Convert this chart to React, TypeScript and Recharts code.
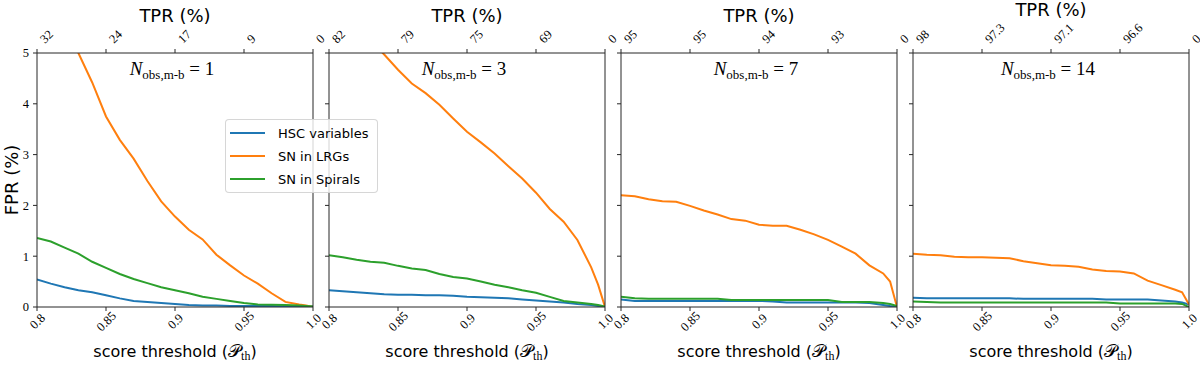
import React from "react";
import { LineChart, Line, XAxis, YAxis } from "recharts";

// score thresholds shared by every panel
const thresholds = [0.8, 0.81, 0.82, 0.83, 0.84, 0.85, 0.86, 0.87, 0.88, 0.89, 0.9, 0.91, 0.92, 0.93, 0.94, 0.95, 0.96, 0.97, 0.98, 0.99, 0.995, 1.0];
const xTicks = [0.8, 0.85, 0.9, 0.95, 1.0];
const yTicks = [0, 1, 2, 3, 4, 5];
const nObs = [1, 3, 7, 14];

const seriesNames = ["HSC variables", "SN in LRGs", "SN in Spirals"];
const colors = ["#1f77b4", "#ff7f0e", "#2ca02c"];

// TPR labels on the top axis
const tpr1 = ["32", "24", "17", "9", "0"];
const tpr2 = ["82", "79", "75", "69", "0"];
const tpr3 = ["95", "95", "94", "93", "0"];
const tpr4 = ["98", "97.3", "97.1", "96.6", "0"];

// FPR (%) per threshold
const hsc1 = [0.54, 0.46, 0.39, 0.33, 0.29, 0.23, 0.17, 0.12, 0.1, 0.08, 0.06, 0.04, 0.03, 0.03, 0.02, 0.02, 0.02, 0.02, 0.01, 0.01, 0.01, 0.01];
const lrg1 = [6.9, 6.3, 5.7, 5.0, 4.42, 3.75, 3.29, 2.92, 2.48, 2.08, 1.78, 1.52, 1.33, 1.03, 0.82, 0.62, 0.46, 0.27, 0.1, 0.05, 0.03, 0.0];
const spiral1 = [1.36, 1.29, 1.17, 1.05, 0.89, 0.77, 0.65, 0.55, 0.47, 0.39, 0.33, 0.27, 0.2, 0.16, 0.12, 0.08, 0.05, 0.045, 0.04, 0.03, 0.02, 0.01];

const hsc2 = [0.33, 0.31, 0.29, 0.27, 0.25, 0.24, 0.24, 0.23, 0.23, 0.22, 0.2, 0.19, 0.18, 0.17, 0.15, 0.13, 0.11, 0.09, 0.06, 0.04, 0.02, 0.0];
const lrg2 = [6.2, 5.85, 5.55, 5.25, 4.97, 4.67, 4.4, 4.21, 3.98, 3.71, 3.45, 3.24, 3.02, 2.77, 2.53, 2.25, 1.93, 1.68, 1.32, 0.78, 0.44, 0.0];
const spiral2 = [1.02, 0.98, 0.93, 0.89, 0.87, 0.81, 0.76, 0.73, 0.65, 0.59, 0.56, 0.5, 0.44, 0.39, 0.33, 0.28, 0.2, 0.12, 0.09, 0.06, 0.04, 0.01];

const hsc3 = [0.15, 0.12, 0.12, 0.12, 0.12, 0.12, 0.12, 0.12, 0.12, 0.12, 0.12, 0.11, 0.09, 0.09, 0.09, 0.09, 0.09, 0.09, 0.08, 0.04, 0.02, 0.01];
const lrg3 = [2.2, 2.18, 2.12, 2.08, 2.07, 1.99, 1.9, 1.82, 1.73, 1.7, 1.62, 1.6, 1.6, 1.52, 1.43, 1.32, 1.19, 1.05, 0.82, 0.66, 0.5, 0.0];
const spiral3 = [0.2, 0.17, 0.16, 0.16, 0.16, 0.16, 0.16, 0.16, 0.14, 0.14, 0.14, 0.14, 0.14, 0.14, 0.14, 0.14, 0.1, 0.1, 0.1, 0.08, 0.06, 0.02];

const hsc4 = [0.18, 0.17, 0.17, 0.17, 0.17, 0.17, 0.17, 0.17, 0.16, 0.16, 0.16, 0.16, 0.16, 0.16, 0.15, 0.15, 0.15, 0.15, 0.13, 0.11, 0.09, 0.05];
const lrg4 = [1.05, 1.03, 1.02, 0.99, 0.98, 0.98, 0.97, 0.96, 0.9, 0.86, 0.82, 0.81, 0.79, 0.74, 0.71, 0.7, 0.66, 0.52, 0.43, 0.34, 0.29, 0.05];
const spiral4 = [0.11, 0.1, 0.09, 0.09, 0.09, 0.09, 0.09, 0.09, 0.09, 0.09, 0.09, 0.09, 0.09, 0.09, 0.09, 0.07, 0.07, 0.07, 0.07, 0.07, 0.06, 0.0];

const panels = [
  { n: nObs[0], tpr: tpr1, hsc: hsc1, lrg: lrg1, spiral: spiral1 },
  { n: nObs[1], tpr: tpr2, hsc: hsc2, lrg: lrg2, spiral: spiral2 },
  { n: nObs[2], tpr: tpr3, hsc: hsc3, lrg: lrg3, spiral: spiral3 },
  { n: nObs[3], tpr: tpr4, hsc: hsc4, lrg: lrg4, spiral: spiral4 },
];

// layout
const W = 1200;
const H = 367;
const PLOT_TOP = 53;
const PLOT_BOTTOM = 307;
const PLOT_W = 276;
const PANEL_LEFTS = [37, 329, 621, 913];
const PAD_L = 37;
const PAD_R = 20;
const AXIS_COLOR = "#262626";
const SERIF = "'Liberation Serif', 'DejaVu Serif', serif";
const SANS = "'DejaVu Sans', sans-serif";

const labelWidth = (s: string) => s.split("").reduce((w, c) => w + (c === "." ? 3 : 6), 0);
const tickFont = { fontSize: 12.5, fontFamily: SERIF, fill: "#000" };
const noLabel = () => "";

function Panel({ idx }: { idx: number }) {
  const p = panels[idx];
  const data = thresholds.map((t, i) => ({ t, hsc: p.hsc[i], lrg: p.lrg[i], spiral: p.spiral[i] }));
  const first = idx === 0;
  return (
    <div style={{ position: "absolute", left: PANEL_LEFTS[idx] - PAD_L, top: 0 }}>
      <LineChart width={PAD_L + PLOT_W + PAD_R} height={H} data={data}
        margin={{ top: PLOT_TOP - 30, bottom: H - PLOT_BOTTOM - 30, left: PAD_L - 30, right: PAD_R - 1 }}>
        <XAxis xAxisId="b" dataKey="t" type="number" domain={[0.8, 1]} ticks={xTicks} allowDataOverflow
          height={30} tickSize={4} tickMargin={7} stroke={AXIS_COLOR} interval={0}
          tickFormatter={(v: number) => (v === 1 ? "1.0" : String(v))}
          tick={{ ...tickFont, angle: -45, textAnchor: "middle", dx: -3 }} />
        <XAxis xAxisId="t" dataKey="t" type="number" domain={[0.8, 1]} ticks={xTicks} allowDataOverflow
          orientation="top" height={30} tickSize={4} tickMargin={5} stroke={AXIS_COLOR} interval={0}
          tickFormatter={(v: number) => p.tpr[xTicks.indexOf(v)] ?? ""}
          tick={{ ...tickFont, angle: -45, textAnchor: "start", dx: 8 }} />
        <YAxis yAxisId="l" type="number" domain={[0, 5]} ticks={yTicks} allowDataOverflow width={30}
          tickSize={4} tickMargin={4} stroke={AXIS_COLOR} interval={0} tick={tickFont}
          tickFormatter={first ? undefined : noLabel} />
        <YAxis yAxisId="r" orientation="right" type="number" domain={[0, 5]} width={1}
          tick={false} tickLine={false} stroke={AXIS_COLOR} />
        <Line xAxisId="b" yAxisId="l" type="linear" dataKey="hsc" stroke={colors[0]} strokeWidth={2}
          dot={false} isAnimationActive={false} />
        <Line xAxisId="b" yAxisId="l" type="linear" dataKey="lrg" stroke={colors[1]} strokeWidth={2}
          dot={false} isAnimationActive={false} />
        <Line xAxisId="b" yAxisId="l" type="linear" dataKey="spiral" stroke={colors[2]} strokeWidth={2}
          dot={false} isAnimationActive={false} />
      </LineChart>
    </div>
  );
}

export default function App() {
  return (
    <div style={{ position: "absolute", left: 0, top: 0, width: W, height: H, overflow: "hidden", background: "#fff" }}>
      {panels.map((_, i) => <Panel key={i} idx={i} />)}
      <svg width={W} height={H} style={{ position: "absolute", left: 0, top: 0, pointerEvents: "none" }}>
        <text x={18} y={(PLOT_TOP + PLOT_BOTTOM) / 2} transform={`rotate(-90 18 ${(PLOT_TOP + PLOT_BOTTOM) / 2})`}
          textAnchor="middle" fontSize={18} fontFamily={SANS} fill="#000">FPR (%)</text>
        {panels.map((p, i) => {
          const cx = PANEL_LEFTS[i] + PLOT_W / 2;
          const maxLen = Math.max(...p.tpr.map(labelWidth));
          const titleY = 44 - 0.707 * (maxLen + 9) - 7;
          return (
            <g key={i}>
              <text x={cx} y={titleY} textAnchor="middle" fontSize={18} fontFamily={SANS} fill="#000">TPR (%)</text>
              <text x={cx - 3} y={75} textAnchor="middle" fontFamily={SERIF} fill="#000">
                <tspan fontStyle="italic" fontSize={19}>N</tspan>
                <tspan fontSize={13} dy={4}>obs,m-b</tspan>
                <tspan fontSize={19} dy={-4}>{` = ${p.n}`}</tspan>
              </text>
              <text x={cx} y={357} textAnchor="middle" fontSize={16} fontFamily={SANS} fill="#000">
                score threshold (
                <tspan fontFamily={SERIF} fontSize={18}>𝒫</tspan>
                <tspan fontFamily={SERIF} fontSize={12} dy={3}>th</tspan>
                <tspan dy={-3}>)</tspan>
              </text>
            </g>
          );
        })}
      </svg>
      <div style={{
        position: "absolute", left: 225, top: 119, width: 153, height: 74, boxSizing: "border-box",
        background: "rgba(255,255,255,0.8)", border: "1px solid rgba(204,204,204,0.8)", borderRadius: 4,
        fontFamily: SANS, fontSize: 13, color: "#000",
      }}>
        {seriesNames.map((name, i) => (
          <div key={name} style={{ position: "absolute", left: 4, top: 5 + i * 23, height: 16, display: "flex", alignItems: "center" }}>
            <div style={{ width: 35, height: 2, background: colors[i] }} />
            <span style={{ marginLeft: 13, whiteSpace: "nowrap" }}>{name}</span>
          </div>
        ))}
      </div>
    </div>
  );
}
